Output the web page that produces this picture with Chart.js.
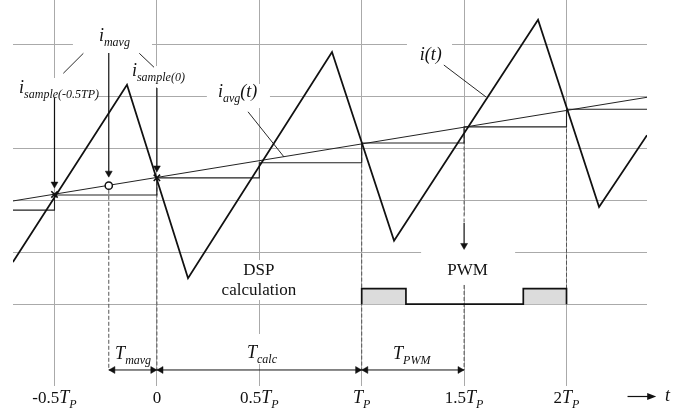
<!DOCTYPE html>
<html>
<head>
<meta charset="utf-8">
<title>Sampling, DSP calculation and PWM timing</title>
<script src="https://cdn.jsdelivr.net/npm/chart.js@4.4.1/dist/chart.umd.min.js"></script>
<style>
  html, body { margin: 0; padding: 0; background: #fff; }
  canvas { display: block; }
</style>
</head>
<body>
<canvas id="chart" width="688" height="413"></canvas>
<script>
// time is in units of T_P, current in grid divisions

// 🕒 Axis ticks
const gridT = [-0.5, 0, 0.5, 1, 1.5, 2];
const tickLabels = ["-0.5T_{P}", "0", "0.5T_{P}", "T_{P}", "1.5T_{P}", "2T_{P}"];
const gridI = [1, 2, 3, 4, 5, 6];

// ⚡ i(t), corners of the triangle current
const currentT = [-0.703, -0.146, 0.152, 0.855, 1.158, 1.861, 2.159, 2.393];
const currentI = [1.81, 5.22, 1.50, 5.85, 2.22, 6.47, 2.87, 4.25];

// 📈 i_avg(t)
const avgT = [-0.703, 2.393];
const avgI = [2.985, 4.979];

// 🪜 sampled current, held until the next sample
const sampleT = [-0.703, -0.5, 0, 0.5, 1, 1.5, 2, 2.393];
const sampleI = [2.81, 3.10, 3.43, 3.72, 4.10, 4.41, 4.75, 4.75];

// ✖ i_sample(-0.5TP) and i_sample(0)
const crossT = [-0.5, 0];
const crossI = [3.11, 3.43];

// ○ i_mavg
const mavgT = [-0.235];
const mavgI = [3.28];

// PWM pulse
const pwmT = [1, 1, 1.216, 1.216, 1.789, 1.789, 2, 2];
const pwmI = [1, 1.30, 1.30, 1, 1, 1.30, 1.30, 1];

// ---- annotations (same units) ----
// time spans on the bottom row: T_mavg, T_calc, T_PWM
const spanRow = -0.265;
const spans = [[-0.235, 0], [0, 1], [1, 1.5]];
// dashed drop lines [t, from, to]
const drops = [[-0.235, 3.2, -0.265], [0, 3.36, -0.265], [1, 4.05, -0.265],
               [1.5, 4.38, 2.58], [1.5, 1.37, -0.265], [2, 4.72, 1.0]];
// downward arrows [t, from, to]
const pointers = [[-0.5, 4.965, 3.31], [-0.235, 5.83, 3.52], [0, 5.16, 3.62], [1.5, 2.565, 2.13]];
// leader lines [t0, i0, t1, i1]
const leaders = [[-0.457, 5.44, -0.359, 5.825], [-0.086, 5.825, -0.014, 5.556],
                 [0.445, 4.70, 0.621, 3.83], [1.401, 5.60, 1.607, 4.985]];
// "→ t" arrow under the axis [t0, t1, level]
const axisArrow = [2.298, 2.438, -0.76];

// text labels, "_{..}" is a subscript
const texts = [
  { text: "i_{mavg}", t: -0.283, v: 6.062 },
  { text: "i_{sample(-0.5TP)}", t: -0.673, v: 5.062 },
  { text: "i_{sample(0)}", t: -0.122, v: 5.388 },
  { text: "i_{avg}(t)", t: 0.298, v: 4.985 },
  { text: "i(t)", t: 1.284, v: 5.696 },
  { text: "T_{mavg}", t: -0.204, v: -0.054 },
  { text: "T_{calc}", t: 0.44, v: -0.035 },
  { text: "T_{PWM}", t: 1.153, v: -0.054 },
  { text: "t", t: 2.481, v: -0.862 },
  { text: "DSP", t: 0.498, v: 1.565, upright: true, center: true },
  { text: "calculation", t: 0.498, v: 1.18, upright: true, center: true },
  { text: "PWM", t: 1.517, v: 1.565, upright: true, center: true }
];
const tickRow = -0.898;
// white patches behind labels [t0, i0, t1, i1]
const masks = [
  [-0.410, 6.427, -0.024, 5.888],
  [-0.703, 5.35, -0.292, 4.908],
  [-0.141, 5.58, 0.137, 5.177],
  [0.244, 5.235, 0.552, 4.773],
  [1.221, 6.119, 1.441, 5.581],
  [0.318, 1.85, 0.689, 1.081],
  [1.29, 2.715, 1.749, 1.369],
  [0.425, 0.427, 0.611, -0.15]
];

const ink = "#111";
const serif = '"Liberation Serif", "Times New Roman", serif';
const xy = (ts, is) => ts.map((t, k) => ({ x: t, y: is[k] }));

function line(points, extra) {
  return Object.assign({ data: points, borderColor: ink, borderWidth: 1, pointRadius: 0, order: 5 }, extra);
}

// arrow heads
const heads = [];
pointers.forEach(p => heads.push({ x: p[0], y: p[2], rot: 180 }));
spans.forEach(s => {
  heads.push({ x: s[0] + 0.02, y: spanRow, rot: 270 });
  heads.push({ x: s[1] - 0.02, y: spanRow, rot: 90 });
});

const datasets = [
  line(xy(currentT, currentI), { borderWidth: 1.8, order: 1 }),
  line(xy(avgT, avgI), { borderColor: "#222", borderWidth: 1, order: 2 }),
  line(xy(sampleT, sampleI), { stepped: true, borderColor: "#222", borderWidth: 1.1, order: 3 }),
  line(xy(pwmT, pwmI), { borderWidth: 1.7, fill: { value: 1 }, backgroundColor: "#dcdcdc", order: 4 }),
  line(xy(crossT, crossI), { showLine: false, pointStyle: "crossRot", pointRadius: 4.5, pointBorderWidth: 1.6, pointBorderColor: ink, order: 0 }),
  line(xy(mavgT, mavgI), { showLine: false, pointStyle: "circle", pointRadius: 3.6, pointBorderWidth: 1.5, pointBorderColor: ink, pointBackgroundColor: "#fff", order: 0 }),
  line(heads.map(h => ({ x: h.x, y: h.y })), {
    showLine: false, pointStyle: "triangle", pointRadius: 4, pointBorderWidth: 0.5,
    pointBorderColor: ink, pointBackgroundColor: ink,
    pointRotation: c => heads[c.dataIndex].rot, order: 0
  })
];
spans.forEach(s => datasets.push(line([{ x: s[0], y: spanRow }, { x: s[1], y: spanRow }], { borderWidth: 1 })));
pointers.forEach(p => datasets.push(line([{ x: p[0], y: p[1] }, { x: p[0], y: p[2] }], { borderWidth: 1.2 })));
leaders.forEach(l => datasets.push(line([{ x: l[0], y: l[1] }, { x: l[2], y: l[3] }], { borderWidth: 0.9 })));
drops.forEach(d => datasets.push(line([{ x: d[0], y: d[1] }, { x: d[0], y: d[2] }], {
  borderColor: "#555", borderWidth: 1, borderDash: [4, 2], order: 6
})));

// text with italic letters and subscripts
function drawRich(ctx, str, x, y, opt) {
  const runs = [];
  const re = /_\{([^}]*)\}|[^_]+/g;
  let m;
  while ((m = re.exec(str))) {
    if (m[1] !== undefined) {
      runs.push({ s: m[1], font: "italic 12px " + serif, dy: 5 });
    } else if (opt.upright) {
      runs.push({ s: m[0], font: "17px " + serif, dy: 0 });
    } else {
      m[0].match(/[-0-9.]+|[^-0-9.]+/g).forEach(s => {
        const num = /^[-0-9.]+$/.test(s);
        runs.push({ s, font: (num ? "17px " : "italic 18px ") + serif, dy: 0 });
      });
    }
  }
  let total = 0;
  runs.forEach(r => { ctx.font = r.font; r.w = ctx.measureText(r.s).width; total += r.w; });
  let cx = opt.center ? x - total / 2 : x;
  runs.forEach(r => {
    ctx.font = r.font;
    ctx.fillText(r.s, cx, y + r.dy);
    cx += r.w;
  });
}

const labelPlugin = {
  id: "labels",
  beforeDatasetsDraw(chart) {
    const { ctx, scales: { x, y } } = chart;
    ctx.save();
    ctx.fillStyle = "#fff";
    masks.forEach(([t0, v0, t1, v1]) => {
      const a = x.getPixelForValue(t0), b = x.getPixelForValue(t1);
      const c = y.getPixelForValue(v0), d = y.getPixelForValue(v1);
      ctx.fillRect(Math.min(a, b), Math.min(c, d), Math.abs(b - a), Math.abs(d - c));
    });
    ctx.restore();
  },
  afterDatasetsDraw(chart) {
    const { ctx, scales: { x, y } } = chart;
    ctx.save();
    ctx.fillStyle = ink;
    ctx.strokeStyle = ink;
    ctx.textBaseline = "alphabetic";
    ctx.textAlign = "left";
    texts.forEach(l => drawRich(ctx, l.text, x.getPixelForValue(l.t), y.getPixelForValue(l.v), l));
    gridT.forEach((t, k) => drawRich(ctx, tickLabels[k], x.getPixelForValue(t), y.getPixelForValue(tickRow), { center: true }));

    // time axis arrow, sits below the plot area
    const x0 = x.getPixelForValue(axisArrow[0]), x1 = x.getPixelForValue(axisArrow[1]);
    const ay = Math.round(y.getPixelForValue(axisArrow[2])) + 0.5;
    ctx.lineWidth = 1.2;
    ctx.beginPath();
    ctx.moveTo(x0, ay);
    ctx.lineTo(x1 - 6, ay);
    ctx.stroke();
    ctx.beginPath();
    ctx.moveTo(x1, ay);
    ctx.lineTo(x1 - 9, ay - 3.5);
    ctx.lineTo(x1 - 9, ay + 3.5);
    ctx.closePath();
    ctx.fill();
    ctx.restore();
  }
};

const hiddenAxis = (ticks, min, max) => ({
  type: "linear", min, max,
  afterBuildTicks: s => { s.ticks = ticks.map(value => ({ value })); },
  grid: { color: "#aaaaaa", lineWidth: 1, drawTicks: false },
  border: { display: false },
  ticks: { display: false }
});

new Chart(document.getElementById("chart"), {
  type: "line",
  data: { datasets },
  options: {
    responsive: false,
    animation: false,
    devicePixelRatio: 1,
    events: [],
    // fixed plot area, no extra room for point markers
    layout: { autoPadding: false, padding: { left: 13, right: 41, top: 0, bottom: 27 } },
    elements: { point: { radius: 0 }, line: { tension: 0 } },
    plugins: { legend: { display: false }, tooltip: { enabled: false } },
    scales: {
      x: hiddenAxis(gridT, -0.7026, 2.393),
      y: hiddenAxis(gridI, -0.573, 6.85)
    }
  },
  plugins: [labelPlugin]
});
</script>
</body>
</html>
